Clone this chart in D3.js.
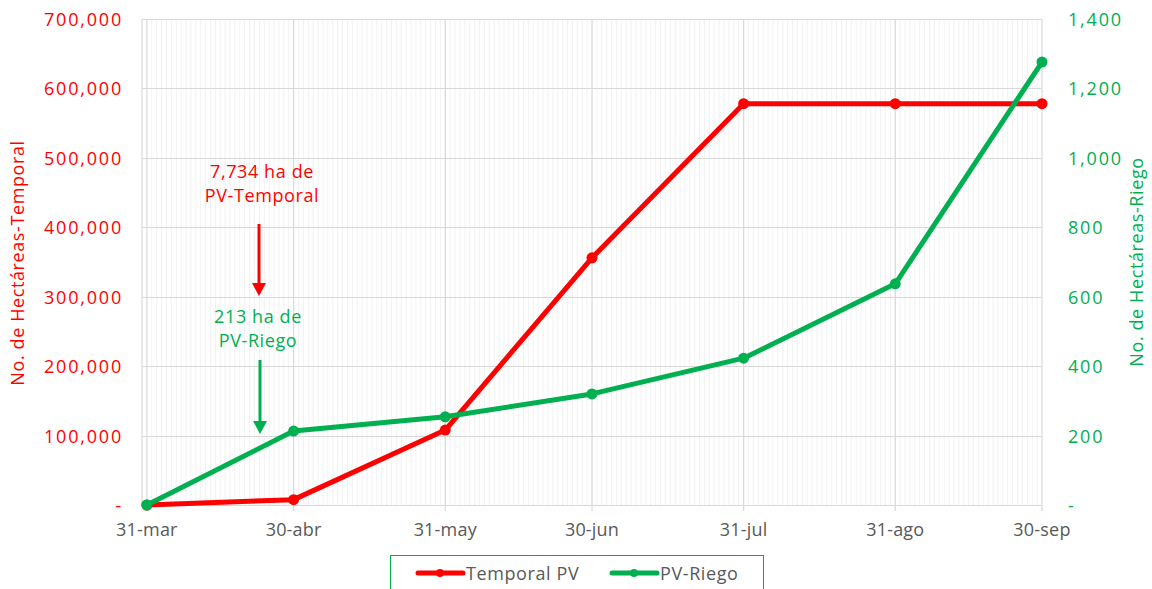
<!DOCTYPE html>
<html>
<head>
<meta charset="utf-8">
<script src="https://cdn.jsdelivr.net/npm/d3@7"></script>
<style>
  body { margin: 0; background: #fff; }
  text { font-family: "Open Sans", "Noto Sans", sans-serif; }
</style>
</head>
<body>
<svg id="chart" width="1152" height="589"></svg>
<script>
// data
const fechas = ["2023-03-31", "2023-04-30", "2023-05-31", "2023-06-30", "2023-07-31", "2023-08-31", "2023-09-30"];
const etiquetas = ["31-mar", "30-abr", "31-may", "30-jun", "31-jul", "31-ago", "30-sep"];
const temporal = [0, 7734, 108000, 356000, 578000, 578000, 578000];
const riego = [0, 213, 254, 320, 423, 637, 1276];
const ticksIzq = [0, 100000, 200000, 300000, 400000, 500000, 600000, 700000];
const ticksDer = [0, 200, 400, 600, 800, 1000, 1200, 1400];

const rojo = "#ff0000";
const verde = "#00b050";

const parse = d3.timeParse("%Y-%m-%d");
const dias = fechas.map(parse);

const svg = d3.select("#chart");
const izq = 142, der = 1042, arriba = 19, abajo = 505;

let x = d3.scaleTime().domain([d3.timeDay.offset(dias[0], -0.6), dias[6]]).range([izq, der]);
let yL = d3.scaleLinear().domain([0, 700000]).range([abajo, arriba]);
let yR = d3.scaleLinear().domain([0, 1400]).range([abajo, arriba]);

// minor daily gridlines
let diario = d3.timeDay.range(d3.timeDay.offset(dias[0], 1), dias[6]);
svg.append("g").selectAll("line").data(diario).enter().append("line")
  .attr("x1", d => x(d)).attr("x2", d => x(d))
  .attr("y1", arriba).attr("y2", abajo)
  .attr("stroke", "#f2f2f2").attr("stroke-width", 1);

// horizontal gridlines
svg.append("g").selectAll("line").data(ticksIzq).enter().append("line")
  .attr("x1", izq).attr("x2", der)
  .attr("y1", d => Math.round(yL(d)) + 0.5).attr("y2", d => Math.round(yL(d)) + 0.5)
  .attr("stroke", "#d9d9d9").attr("stroke-width", 1.2);

// major vertical gridlines
svg.append("g").selectAll("line").data(dias).enter().append("line")
  .attr("x1", d => x(d)).attr("x2", d => x(d))
  .attr("y1", arriba).attr("y2", abajo + 6)
  .attr("stroke", "#d9d9d9").attr("stroke-width", 1.2);
svg.append("line").attr("x1", izq).attr("x2", izq).attr("y1", arriba).attr("y2", abajo)
  .attr("stroke", "#d9d9d9").attr("stroke-width", 1.2);

// axis labels
const fmt = d => d === 0 ? "-" : d3.format(",")(d);
svg.append("g").selectAll("text").data(ticksIzq).enter().append("text")
  .attr("x", 123).attr("y", d => yL(d) + 7)
  .attr("text-anchor", "end").attr("fill", rojo).attr("font-size", 18)
  .attr("letter-spacing", 1.8)
  .text(fmt);

svg.append("g").selectAll("text").data(ticksDer).enter().append("text")
  .attr("x", 1068).attr("y", d => yR(d) + 7)
  .attr("text-anchor", "start").attr("fill", verde).attr("font-size", 18)
  .attr("letter-spacing", 1.8)
  .text(fmt);

// x labels
svg.append("g").selectAll("text").data(dias).enter().append("text")
  .attr("x", d => x(d)).attr("y", 536)
  .attr("text-anchor", "middle").attr("fill", "#595959").attr("font-size", 18)
  .attr("letter-spacing", 0.2)
  .text((d, i) => etiquetas[i]);

// axis titles
svg.append("text").attr("transform", "translate(24," + ((arriba + abajo) / 2 + 1) + ") rotate(-90)")
  .attr("text-anchor", "middle").attr("fill", rojo).attr("font-size", 18)
  .attr("letter-spacing", 0.6)
  .text("No. de Hectáreas-Temporal");
svg.append("text").attr("transform", "translate(1143," + ((arriba + abajo) / 2) + ") rotate(-90)")
  .attr("text-anchor", "middle").attr("fill", verde).attr("font-size", 18)
  .attr("letter-spacing", 0.6)
  .text("No. de Hectáreas-Riego");

// lines
function serie(vals, y, color) {
  let pts = vals.map((v, i) => [x(dias[i]), y(v)]);
  svg.append("path").attr("d", d3.line()(pts))
    .attr("fill", "none").attr("stroke", color).attr("stroke-width", 5)
    .attr("stroke-linejoin", "round").attr("stroke-linecap", "round");
  svg.append("g").selectAll("circle").data(pts).enter().append("circle")
    .attr("cx", d => d[0]).attr("cy", d => d[1]).attr("r", 5.5).attr("fill", color);
}
serie(temporal, yL, rojo);
serie(riego, yR, verde);

// annotations
const nota = (lineas, cx, y0, color) => {
  lineas.forEach((t, i) => {
    svg.append("text").attr("x", cx).attr("y", y0 + i * 24)
      .attr("text-anchor", "middle").attr("fill", color).attr("font-size", 18)
      .attr("letter-spacing", 0.6).text(t);
  });
};
nota(["7,734 ha de", "PV-Temporal"], 262, 178, rojo);
nota(["213 ha de", "PV-Riego"], 258, 323, verde);

function flecha(cx, y1, y2, color) {
  svg.append("line").attr("x1", cx).attr("x2", cx).attr("y1", y1).attr("y2", y2 - 10)
    .attr("stroke", color).attr("stroke-width", 3);
  svg.append("path").attr("d", `M${cx - 7},${y2 - 13}L${cx + 7},${y2 - 13}L${cx},${y2}Z`).attr("fill", color);
}
flecha(259, 224, 296, rojo);
flecha(260, 360, 434, verde);

// legend
svg.append("rect").attr("x", 390.5).attr("y", 555.5).attr("width", 373).attr("height", 40)
  .attr("fill", "#fff").attr("stroke", verde).attr("stroke-width", 1);
const leyenda = [["Temporal PV", rojo, 418], ["PV-Riego", verde, 612]];
leyenda.forEach(l => {
  svg.append("line").attr("x1", l[2]).attr("x2", l[2] + 45).attr("y1", 573).attr("y2", 573)
    .attr("stroke", l[1]).attr("stroke-width", 5).attr("stroke-linecap", "round");
  svg.append("circle").attr("cx", l[2] + 22).attr("cy", 573).attr("r", 4).attr("fill", l[1]);
  svg.append("text").attr("x", l[2] + 48).attr("y", 580).attr("fill", "#595959")
    .attr("font-size", 18).attr("letter-spacing", 0.6).text(l[0]);
});
</script>
</body>
</html>
